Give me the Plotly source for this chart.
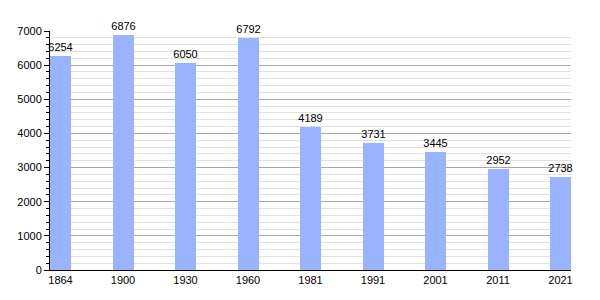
import plotly.graph_objects as go

years = ["1864", "1900", "1930", "1960", "1981", "1991", "2001", "2011", "2021"]
population = [6254, 6876, 6050, 6792, 4189, 3731, 3445, 2952, 2738]

positions = list(range(len(years)))

fig = go.Figure()
fig.add_trace(go.Bar(
    x=positions,
    y=population,
    width=0.336,
    marker=dict(color="#99b3ff", line=dict(width=0)),
    text=[str(v) for v in population],
    textposition="outside",
    constraintext="none",
    textfont=dict(family="Liberation Sans, Arial, sans-serif", size=11, color="black"),
    cliponaxis=False,
))

fig.update_layout(
    width=600, height=300,
    margin=dict(l=50, r=29, t=31, b=30),
    paper_bgcolor="white", plot_bgcolor="white",
    showlegend=False,
    font=dict(family="Liberation Sans, Arial, sans-serif", size=11, color="black"),
    bargap=0,
)
fig.update_xaxes(
    range=[-0.168, 8.168],
    tickvals=positions, ticktext=years,
    showgrid=False, zeroline=False,
    showline=True, linecolor="black", linewidth=1,
    ticks="", ticklabelstandoff=0,
    tickfont=dict(size=11, color="black"),
)
fig.update_yaxes(
    range=[0, 7000],
    tickvals=[0, 1000, 2000, 3000, 4000, 5000, 6000, 7000],
    showgrid=True, gridcolor="#a8a8a8", gridwidth=1,
    zeroline=False,
    showline=True, linecolor="black", linewidth=1,
    ticks="outside", ticklen=5, tickcolor="black",
    minor=dict(dtick=200, showgrid=True, gridcolor="#e2e2e2", ticks="outside", ticklen=3, tickcolor="black"),
    tickfont=dict(size=11, color="black"),
)

fig.write_html("out.html")
